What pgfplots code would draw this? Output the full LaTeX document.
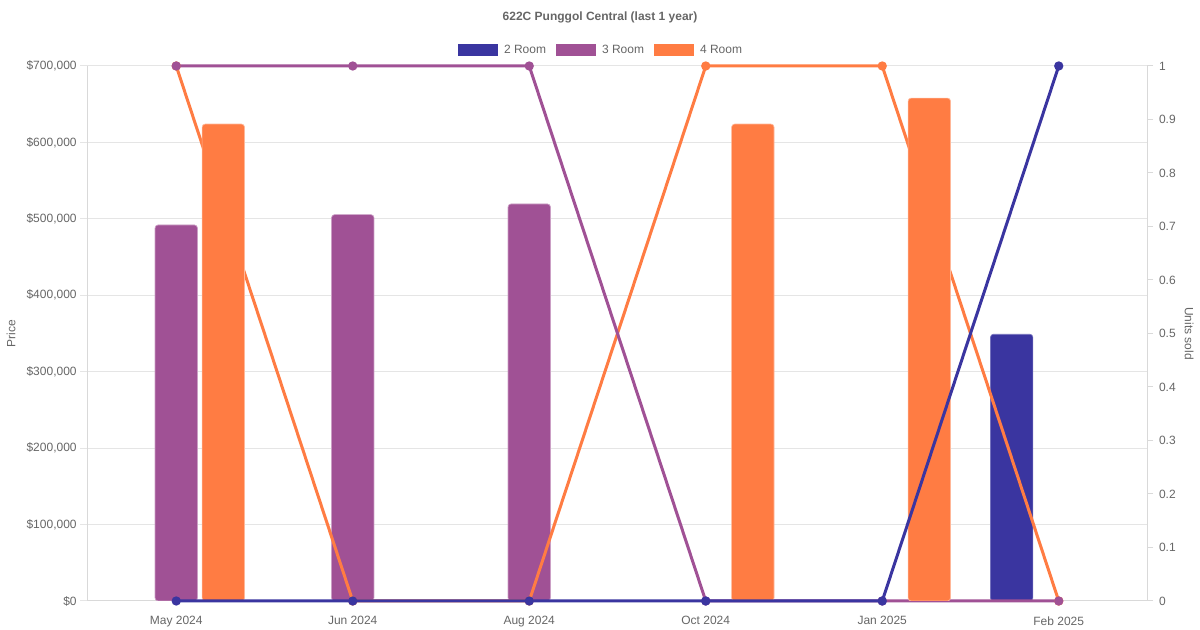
\documentclass[border=0pt]{standalone}
\usepackage{fontspec}
\setmainfont{Liberation Sans}
\usepackage{pgfplots}
\pgfplotsset{compat=1.18}
\definecolor{cA}{HTML}{3A35A0}
\definecolor{cB}{HTML}{A05195}
\definecolor{cC}{HTML}{FF7C43}
\definecolor{txt}{HTML}{666666}
\definecolor{grd}{HTML}{E5E5E5}
\definecolor{axl}{HTML}{D9D9D9}
\pgfplotsset{
  base/.style={scale only axis, width=794.25pt, height=401.25pt,
    at={(66pt,21.75pt)}, anchor=south west, xmin=-0.5, xmax=5.5,
    font=\fontsize{9}{11}\selectfont,
    /pgf/number format/assume math mode=true,
    every tick label/.append style={text=txt, font=\fontsize{9}{11}\selectfont},
  },
  price/.style={base, ymin=0, ymax=700000, scaled y ticks=false},
  units/.style={base, ymin=0, ymax=1},
  barA/.style={ybar, bar width=0.24, line width=0.5pt, rounded corners=2.25pt},
  lineA/.style={line width=2.25pt, mark=*, mark size=2.3pt, mark options={solid}},
}
\begin{document}
\begin{tikzpicture}
\path[use as bounding box] (0,0) rectangle (900pt,472.5pt);
% Axis A: price axis, grid, blue and purple bars, legend
\begin{axis}[price,
  axis x line*=bottom, axis y line*=left,
  axis line style={color=axl, line width=0.75pt},
  ymajorgrids, grid style={color=grd, line width=0.75pt},
  ytick={0,100000,200000,300000,400000,500000,600000,700000},
  yticklabels={{\$0},{\$100,000},{\$200,000},{\$300,000},{\$400,000},{\$500,000},{\$600,000},{\$700,000}},
  ytick pos=left, tick align=outside, major tick length=6pt,
  ytick style={color=grd, line width=0.75pt},
  xtick={0,1,2,3,4,5},
  xticklabels={May 2024,Jun 2024,Aug 2024,Oct 2024,Jan 2025,Feb 2025},
  xtick style={draw=none},
  xticklabel style={yshift=-2pt},
  yticklabel style={xshift=1pt},
  ylabel={Price},
  ylabel style={at={(axis description cs:-0.0727,0.5)}, anchor=center, rotate=0, text=txt},
  title={622C Punggol Central (last 1 year)},
  every axis title/.style={at={(axis description cs:0.4835,1.0916)}, anchor=center, font=\fontsize{9}{11}\selectfont\bfseries, text=txt},
  legend columns=3,
  legend image code/.code={\fill[#1] (0pt,-4.5pt) rectangle (30pt,4.5pt);},
  legend style={at={(axis description cs:0.4835,1.03)}, anchor=center, draw=none, fill=none,
    column sep=4.5pt, /tikz/every even column/.append style={column sep=7.5pt},
    nodes={inner sep=0pt, text=txt, font=\fontsize{9}{11}\selectfont}},
]
\addlegendimage{fill=cA, draw=none}\addlegendentry{2 Room}
\addlegendimage{fill=cB, draw=none}\addlegendentry{3 Room}
\addlegendimage{fill=cC, draw=none}\addlegendentry{4 Room}
\addplot[barA, bar shift=-0.2667, fill=cA, draw=cA!70!white, forget plot] coordinates {(5,349000)};
\addplot[barA, bar shift=0, fill=cB, draw=cB!55!white, forget plot] coordinates {(0,492000) (1,505500) (2,519500)};
\end{axis}
% Axis B: units axis, orange and purple lines
\begin{axis}[units, clip=false,
  axis x line=none, axis y line*=right,
  axis line style={color=axl, line width=0.75pt},
  ytick={0,0.1,0.2,0.3,0.4,0.5,0.6,0.7,0.8,0.9,1},
  ytick pos=right, tick align=outside, major tick length=4.5pt,
  ytick style={color=axl, line width=0.75pt},
  yticklabel style={xshift=1pt},
  ylabel={Units sold},
  ylabel style={at={(axis description cs:1.0397,0.5)}, anchor=center, rotate=180, text=txt},
]
\addplot[lineA, color=cC] coordinates {(0,1) (1,0) (2,0) (3,1) (4,1) (5,0)};
\addplot[lineA, color=cB] coordinates {(0,1) (1,1) (2,1) (3,0) (4,0) (5,0)};
\end{axis}
% Axis C: price, orange bars
\begin{axis}[price, hide axis]
\addplot[barA, bar shift=0.2667, fill=cC, draw=cC!55!white] coordinates {(0,624000) (3,624000) (4,658000)};
\end{axis}
% Axis D: units, blue line
\begin{axis}[units, hide axis, clip=false]
\addplot[lineA, color=cA] coordinates {(0,0) (1,0) (2,0) (3,0) (4,0) (5,1)};
\end{axis}
\end{tikzpicture}
\end{document}
